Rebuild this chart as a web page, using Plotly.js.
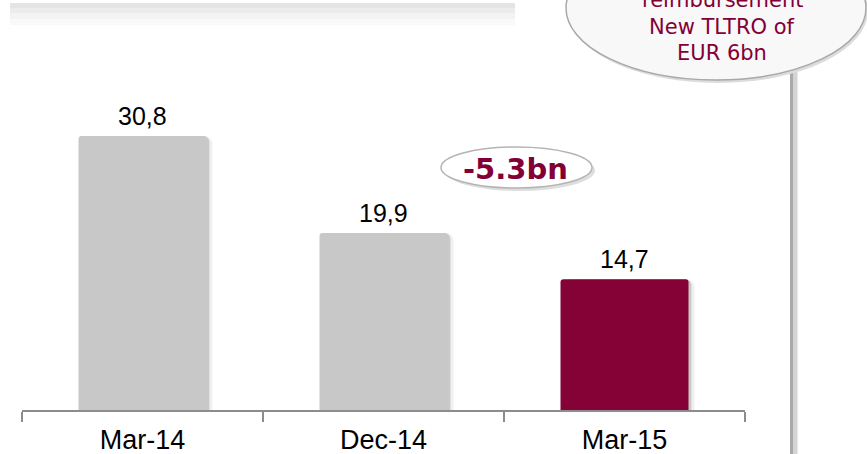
<!DOCTYPE html>
<html>
<head>
<meta charset="utf-8">
<script src="https://cdn.plot.ly/plotly-3.0.1.min.js"></script>
<style>
  html, body { margin: 0; padding: 0; background: #ffffff; }
  #chart { width: 867px; height: 454px; }
</style>
</head>
<body>
<div id="chart"></div>
<script>
// ---- data ----
const categories = ['Mar-14', 'Dec-14', 'Mar-15'];
const values = [30.8, 19.9, 14.7];
const changeLabel = '-5.3bn';
const calloutLines = ['reimbursement', 'New TLTRO of', 'EUR 6bn'];

// ---- style ----
const GREY = '#c8c8c8';
const MAROON = '#850236';
const TEXT_MAROON = '#820036';
const barColors = [GREY, GREY, MAROON];

const W = 867, H = 454;
const M = { l: 22, r: 122, t: 0, b: 44 };
const PW = W - M.l - M.r, PH = H - M.t - M.b;
// pixel -> paper helpers (for decorations only)
const px = x => (x - M.l) / PW;
const py = y => (M.t + PH - y) / PH;

const BW = 0.531;

const shadowOuter = {
  type: 'bar', x: categories, y: values,
  width: BW, offset: -BW / 2 + 0.025,
  marker: { color: 'rgba(0,0,0,0.06)', cornerradius: 8, line: { width: 0 } },
  hoverinfo: 'skip', showlegend: false
};
const shadowInner = {
  type: 'bar', x: categories, y: values,
  width: BW, offset: -BW / 2 + 0.012,
  marker: { color: 'rgba(0,0,0,0.16)', cornerradius: 6, line: { width: 0 } },
  hoverinfo: 'skip', showlegend: false
};
const bars = {
  type: 'bar', x: categories, y: values,
  width: BW, offset: -BW / 2,
  marker: { color: barColors, cornerradius: 3, line: { width: 0 } },
  showlegend: false
};

const shapes = [];
// faded band at top-left (remains of title box)
[[3, 8, '#e4e4e4'], [8, 13, '#ececec'], [13, 19, '#f3f3f3'], [19, 25, '#f9f9f9']].forEach(b => {
  shapes.push({ type: 'rect', xref: 'paper', yref: 'paper', layer: 'below',
    x0: px(10), x1: px(515), y0: py(b[0]), y1: py(b[1]),
    fillcolor: b[2], line: { width: 0 } });
});
// vertical stem on the right
shapes.push({ type: 'rect', xref: 'paper', yref: 'paper', x0: px(790), x1: px(793.5), y0: py(70), y1: py(454),
  fillcolor: '#a9a9a9', line: { width: 0 } });
shapes.push({ type: 'rect', xref: 'paper', yref: 'paper', x0: px(793.5), x1: px(797.5), y0: py(70), y1: py(454),
  fillcolor: '#d4d4d4', line: { width: 0 } });
// callout ellipse (shadow + body)
shapes.push({ type: 'circle', xref: 'paper', yref: 'paper', x0: px(568), x1: px(868), y0: py(-62), y1: py(83),
  fillcolor: '#dcdcdc', line: { width: 0 } });
shapes.push({ type: 'circle', xref: 'paper', yref: 'paper', x0: px(566), x1: px(866), y0: py(-64), y1: py(80),
  fillcolor: '#f8f8f8', line: { color: '#a8a8a8', width: 1.5 } });
// pill around the change label
shapes.push({ type: 'circle', xref: 'paper', yref: 'paper', x0: px(444), x1: px(595), y0: py(150), y1: py(191),
  fillcolor: '#dedede', line: { width: 0 } });
shapes.push({ type: 'circle', xref: 'paper', yref: 'paper', x0: px(441), x1: px(592), y0: py(147), y1: py(188),
  fillcolor: '#ffffff', line: { color: '#b4b4b4', width: 1.5 } });

const annotations = [];
// value labels above bars, placed from the data
categories.forEach((c, i) => {
  annotations.push({ xref: 'x', yref: 'y', x: c, y: values[i], yanchor: 'bottom', yshift: 4,
    showarrow: false, text: values[i].toFixed(1).replace('.', ','),
    font: { family: 'Liberation Sans, Arial, sans-serif', size: 25, color: '#000000' } });
});
const lineCenters = [0, 27, 53];
calloutLines.forEach((t, i) => {
  annotations.push({ xref: 'paper', yref: 'paper', x: px(722), y: py(lineCenters[i]),
    xanchor: 'center', yanchor: 'middle', showarrow: false, text: t,
    font: { family: 'DejaVu Sans, Verdana, sans-serif', size: 21, color: TEXT_MAROON } });
});
annotations.push({ xref: 'paper', yref: 'paper', x: px(515), y: py(169),
  xanchor: 'center', yanchor: 'middle', showarrow: false, text: '<b>' + changeLabel + '</b>',
  font: { family: 'DejaVu Sans, Verdana, sans-serif', size: 29, color: TEXT_MAROON } });

const layout = {
  width: W, height: H,
  margin: M,
  paper_bgcolor: '#ffffff', plot_bgcolor: 'rgba(0,0,0,0)',
  barmode: 'overlay',
  showlegend: false,
  xaxis: {
    type: 'category', showline: true, linecolor: '#8c8c8c', linewidth: 2,
    ticks: 'outside', tickson: 'boundaries', ticklen: 10, tickwidth: 1.5, tickcolor: '#8c8c8c',
    ticklabelstandoff: 5,
    tickfont: { family: 'Liberation Sans, Arial, sans-serif', size: 27, color: '#000000' },
    showgrid: false, zeroline: false, fixedrange: true
  },
  yaxis: {
    range: [0, 46.1], visible: false, showgrid: false, zeroline: false, fixedrange: true
  },
  shapes: shapes,
  annotations: annotations
};

Plotly.newPlot('chart', [shadowOuter, shadowInner, bars], layout, { displayModeBar: false, staticPlot: true });
</script>
</body>
</html>
